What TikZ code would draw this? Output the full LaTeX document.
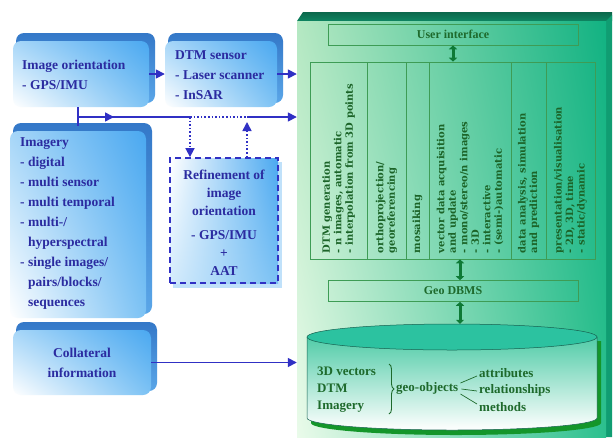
\documentclass[tikz,border=0pt]{standalone}
\usepackage{fontspec}
\setmainfont{Liberation Serif}
\newfontfamily\colfont{DejaVu Serif}
\usetikzlibrary{arrows.meta,calc,decorations.pathreplacing,shadings}
\definecolor{bluetxt}{HTML}{2B2BA0}
\definecolor{bluearr}{HTML}{3030C4}
\definecolor{faceA}{HTML}{A6D6F8}
\definecolor{faceB}{HTML}{4AA8F0}
\definecolor{faceC}{HTML}{7CC2F4}
\definecolor{bevelA}{HTML}{3478C8}
\definecolor{bevelB}{HTML}{5AA6E8}
\definecolor{greentxt}{HTML}{1E6A2C}
\definecolor{coltxtc}{HTML}{1C6428}
\definecolor{greenline}{HTML}{3E9C55}
\definecolor{panelUL}{HTML}{B4E8C2}
\definecolor{panelUR}{HTML}{12B282}
\definecolor{panelLL}{HTML}{EAFBEA}
\definecolor{panelLR}{HTML}{2CC08E}
\definecolor{paneltop}{HTML}{0C684C}
\definecolor{dkgreen}{HTML}{0E7A36}
\definecolor{cyltop}{HTML}{2CC2A0}
\definecolor{cylbody}{HTML}{52CCA8}
\definecolor{cylshadow}{HTML}{14962A}
\tikzset{
  btxt/.style={text=bluetxt, font=\fontsize{13.5}{20}\selectfont\bfseries, inner sep=0pt},
  bluearrow/.style={draw=bluearr, line width=1.6pt, -{Triangle[length=9pt,width=9pt]}},
  blueline/.style={draw=bluearr, line width=1.6pt},
  dotarrow/.style={draw=bluearr, line width=1.6pt, dotted, -{Triangle[length=9pt,width=9pt]}},
  gbox/.style={draw=greenline, line width=0.6pt, inner sep=0pt, text=greentxt, font=\fontsize{12}{14}\selectfont\bfseries},
  colbox/.style={draw=greenline, line width=0.6pt, inner sep=0pt, minimum height=197pt},
  coltxt/.style={rotate=90, anchor=west, align=left, text=coltxtc, font=\colfont\fontsize{10}{11.5}\selectfont\bfseries, inner sep=0pt},
  dbl/.style={draw=dkgreen, line width=3pt, {Triangle[length=4pt,width=8pt]}-{Triangle[length=4pt,width=8pt]}},
  cyltxt/.style={text=greentxt, font=\fontsize{13}{17}\selectfont\bfseries, inner sep=0pt, anchor=west}
}
\newcommand\BBox[5]{%
  \shade[rounded corners=8pt, top color=bevelA, bottom color=bevelB] (#2+3,#3) rectangle (#4,#5-4);
  \shade[rounded corners=8pt, upper left=faceA, upper right=faceB, lower left=white, lower right=faceC] (#2,#3+8) rectangle (#4-6,#5);
  \pgfmathsetmacro\bbw{#4-6-#2}\pgfmathsetmacro\bbh{#5-#3-8}%
  \node[name=#1, inner sep=0pt, minimum width=\bbw pt, minimum height=\bbh pt] at ({(#2+#4-6)/2},{(#3+8+#5)/2}) {};
}
\begin{document}
\begin{tikzpicture}[x=1pt,y=-1pt]
\useasboundingbox (0,0) rectangle (615,437);
\fill[white] (0,0) rectangle (615,437);

% green panel
\shade[top color=paneltop, bottom color=paneltop!60!panelUR] (297,21) -- (303,12) -- (612,12) -- (612,21) -- cycle;
\fill[panelUR!88!black] (606,21) -- (612,15) -- (612,437) -- (606,437) -- cycle;
\shade[upper left=panelUL, upper right=panelUR, lower left=panelLL, lower right=panelLR] (297,21) rectangle (606,437);
\node[name=panel, inner sep=0pt, minimum width=309pt, minimum height=416pt] at (451.5,229) {};

\node[gbox, name=ui, minimum width=250pt, minimum height=21pt] at (453,34.5) {User interface};

\foreach \n/\cx/\w in {c1/338.5/57, c2/386.5/39, c3/417.5/23, c4/470/82, c5/528.5/35, c6/570.5/49}
  \node[colbox, name=\n, minimum width=\w pt] at (\cx,160.5) {};

\node[coltxt, name=t1] at ($(c1.south)+(0,-6)$) {DTM generation\\- n images, automatic\\- interpolation from 3D points};
\node[coltxt, name=t2] at ($(c2.south)+(0,-6)$) {orthoprojection/\\georeferencing};
\node[coltxt, name=t3] at ($(c3.south)+(0,-6)$) {mosaiking};
\node[coltxt, name=t4] at ($(c4.south)+(0,-6)$) {vector data acquisition\\and update\\- mono/stereo/n images\\- 3D\\- interactive\\- (semi-)automatic};
\node[coltxt, name=t5] at ($(c5.south)+(0,-6)$) {data analysis, simulation\\and prediction};
\node[coltxt, name=t6] at ($(c6.south)+(0,-6)$) {presentation/visualisation\\- 2D, 3D, time\\- static/dynamic};

\node[gbox, name=dbms, minimum width=250pt, minimum height=21pt] at (453,291) {Geo DBMS};

% cylinder
\fill[cylshadow] (311,341) -- (311,423) arc[start angle=180,end angle=0,x radius=145,y radius=12] -- (601,341) -- cycle;
\shade[top color=cylbody, bottom color=white, draw=cyltop!50!black, line width=0.5pt] (307,337) -- (307,418) arc[start angle=180,end angle=0,x radius=145,y radius=12] -- (597,337) -- cycle;
\filldraw[fill=cyltop, draw=cyltop!50!black, line width=0.5pt] (452,337) ellipse[x radius=145, y radius=13];
\node[name=cyl, inner sep=0pt, minimum width=290pt, minimum height=106pt] at (452,377) {};

\coordinate (ax) at (460,0);
\draw[dbl] (ui.south) -- (ui.south |- c1.north);
\draw[dbl] (ax |- c4.south) -- (ax |- dbms.north);
\draw[dbl] (ax |- dbms.south) -- (ax |- cyl.north);

\node[cyltxt, name=left3, align=left] at (317,390) {3D vectors\\DTM\\Imagery};
\coordinate (bt) at (389,364);
\coordinate (bb) at (389,414);
\draw[greentxt, line width=0.9pt, decorate, decoration={brace, amplitude=5pt}] (bt) -- (bb);
\node[cyltxt, name=geo] at (396,388) {geo-objects};
\node[cyltxt, name=attr] at (479,373) {attributes};
\node[cyltxt, name=rel] at (479,390) {relationships};
\node[cyltxt, name=meth] at (479,407) {methods};
\draw[greentxt, line width=0.7pt] ($(geo.east)+(2,-5)$) -- ($(attr.west)+(-2,3)$);
\draw[greentxt, line width=0.7pt] ($(geo.east)+(3,1)$) -- ($(rel.west)+(-2,1)$);
\draw[greentxt, line width=0.7pt] ($(geo.east)+(2,6)$) -- ($(meth.west)+(-2,-3)$);

% blue boxes
\BBox{io}{13}{33}{155}{107}
\BBox{dtm}{165}{33}{283}{107}
\BBox{img}{10}{123}{152}{318}
\BBox{col}{13}{322}{157}{395}

\node[btxt, anchor=west, align=left] at (22,75) {Image orientation\\- GPS/IMU};
\node[btxt, anchor=west, align=left] at (175,75) {DTM sensor\\- Laser scanner\\- InSAR};
\node[btxt, anchor=west] at (20,222.5) {\begin{tabular}{@{}l@{\hspace{3.5pt}}l@{}}\multicolumn{2}{@{}l@{}}{Imagery}\\-&digital\\-&multi sensor\\-&multi temporal\\-&multi-/\\&hyperspectral\\-&single images/\\&pairs/blocks/\\&sequences\end{tabular}};
\node[btxt, align=center] at (82,363) {Collateral\\information};

% refinement box
\fill[faceB!35] (173,162) rectangle (282,288);
\shade[upper left=white, upper right=faceB, lower left=faceA!50, lower right=faceC] (170,158) rectangle (278,283);
\node[name=ref, draw=bluearr, line width=1.8pt, dash pattern=on 6pt off 4pt, minimum width=108pt, minimum height=125pt, inner sep=0pt] at (224,220.5) {};
\node[btxt, align=center, font=\fontsize{13.5}{18}\selectfont\bfseries] at (224,223) {Refinement of\\image\\orientation\\[6pt]- GPS/IMU\\+\\AAT};

% connectors
\draw[bluearrow] (io.east) -- (dtm.west);
\draw[bluearrow] (dtm.east) -- (dtm.east -| panel.west);
\draw[bluearrow] (col.east) -- (col.east -| panel.west);

\coordinate (tk) at (78,117);
\coordinate (jn1) at (190,117);
\coordinate (jn2) at (247,117);
\draw[blueline] (tk |- io.south) -- ++(0,19);
\draw[blueline] (tk) -- (jn1);
\draw[bluearrow] (tk) -- ++(36,0);
\draw[blueline, dotted] (jn1) -- (jn2);
\draw[bluearrow] (jn2) -- (jn2 -| panel.west);
\draw[dotarrow] (jn1) -- (jn1 |- ref.north);
\draw[dotarrow] (jn2 |- ref.north) -- ($(jn2)+(0,5)$);
\end{tikzpicture}
\end{document}
